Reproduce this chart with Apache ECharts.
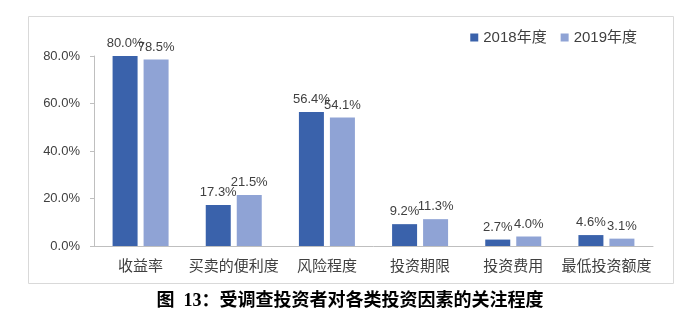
<!DOCTYPE html>
<html><head><meta charset="utf-8">
<script src="https://cdn.jsdelivr.net/npm/echarts@6/dist/echarts.min.js"></script>
<style>html,body{margin:0;padding:0;background:#fff}#c{width:700px;height:322px}</style>
</head><body><div id="c"></div>
<script>
const categories = ['收益率','买卖的便利度','风险程度','投资期限','投资费用','最低投资额度'];
const series2018 = [80.0, 17.3, 56.4, 9.2, 2.7, 4.6];
const series2019 = [78.5, 21.5, 54.1, 11.3, 4.0, 3.1];
const seriesNames = ['2018年度','2019年度'];
const titleText = '图  13：受调查投资者对各类投资因素的关注程度';
const font = '"Liberation Sans", "Noto Sans CJK SC", sans-serif';
const chart = echarts.init(document.getElementById('c'));
const lbl = {show:true, position:'top', distance:6, color:'#404040', fontSize:13, fontFamily:font, formatter: p => p.value.toFixed(1)+'%'};
chart.setOption({
  animation:false,
  graphic:[
    {type:'rect', shape:{x:28.5,y:16.5,width:645,height:267}, style:{fill:'none', stroke:'#d9d9d9', lineWidth:1}},
    {type:'text', left:'center', top:292, style:{text:titleText, font:'bold 18px "Liberation Serif", "Noto Sans CJK SC", serif', fill:'#000'}}
  ],
  legend:{data:seriesNames, top:25, right:58, itemWidth:8, itemHeight:8, itemGap:14, icon:'rect',
    textStyle:{fontSize:15, color:'#404040', fontFamily:font}},
  grid:{left:94, right:47, top:56, bottom:76, containLabel:false},
  xAxis:{type:'category', data:categories, axisTick:{show:false},
    axisLine:{lineStyle:{color:'#bfbfbf'}},
    axisLabel:{fontSize:15, color:'#404040', margin:13, fontFamily:font, interval:0}},
  yAxis:{type:'value', min:0, max:80, interval:20, splitLine:{show:false},
    axisLine:{show:true, lineStyle:{color:'#bfbfbf'}},
    axisTick:{show:true, length:4, lineStyle:{color:'#bfbfbf'}},
    axisLabel:{fontSize:13, color:'#404040', margin:14, fontFamily:font, formatter: v => v.toFixed(1)+'%'}},
  series:[
    {name:seriesNames[0], type:'bar', data:series2018, barWidth:25, barGap:'24%', itemStyle:{color:'#3A62AB'}, label:lbl},
    {name:seriesNames[1], type:'bar', data:series2019, barWidth:25, itemStyle:{color:'#8FA3D5'}, label:lbl}
  ]
});
</script></body></html>
